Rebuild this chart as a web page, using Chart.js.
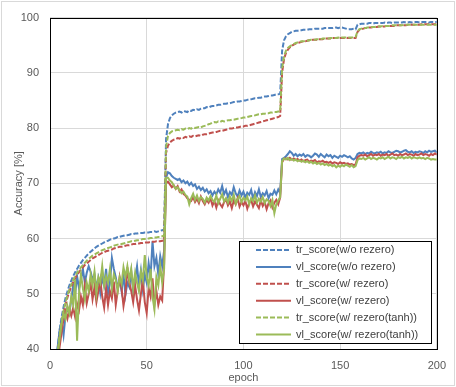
<!DOCTYPE html>
<html lang="en">
<head>
<meta charset="UTF-8">
<title>Accuracy vs epoch</title>
<script src="https://cdn.jsdelivr.net/npm/chart.js"></script>
<style>
  html, body { margin: 0; padding: 0; background: #fff; }
  #wrap { width: 456px; height: 387px; }
</style>
</head>
<body>
<div id="wrap"><canvas id="accChart" width="456" height="387"></canvas></div>
<script>
// legend labels, same order as in the legend box
const seriesNames = [
  'tr_score(w/o rezero)',
  'vl_score(w/o rezero)',
  'tr_score(w/ rezero)',
  'vl_score(w/ rezero)',
  'tr_score(w/ rezero(tanh))',
  'vl_score(w/ rezero(tanh))'
];
const xTicks = [0, 50, 100, 150, 200];
const yTicks = [40, 50, 60, 70, 80, 90, 100];

// accuracy per epoch (epoch 1..200)
const trNoRezero = [
  22, 31, 36.5, 40.2, 43.5, 45.8, 47.6, 49.2, 50.4, 51.5,
  52.4, 53.2, 53.9, 54.5, 55.1, 55.6, 56.1, 56.5, 56.9, 57.3,
  57.6, 57.9, 58.2, 58.5, 58.7, 58.9, 59.1, 59.3, 59.5, 59.6,
  59.8, 59.9, 60.0, 60.1, 60.3, 60.3, 60.4, 60.5, 60.6, 60.6,
  60.7, 60.8, 60.8, 60.9, 60.9, 61.0, 61.0, 61.0, 61.1, 61.1,
  61.1, 61.2, 61.2, 61.3, 61.2, 61.3, 61.4, 61.5, 61.6, 78.0,
  80.7, 81.8, 82.3, 82.6, 82.8, 82.9, 83.0, 82.8, 83.1, 83.0,
  82.9, 83.2, 83.1, 83.3, 83.2, 83.4, 83.3, 83.5, 83.6, 83.6,
  83.8, 83.7, 83.9, 84.0, 84.0, 84.1, 84.2, 84.2, 84.3, 84.4,
  84.4, 84.5, 84.5, 84.6, 84.7, 84.7, 84.8, 84.8, 84.9, 85.0,
  85.0, 85.1, 85.2, 85.2, 85.3, 85.4, 85.4, 85.5, 85.5, 85.6,
  85.7, 85.7, 85.8, 85.9, 85.9, 86.0, 86.1, 86.1, 86.2, 94.0,
  95.9, 96.6, 97.0, 97.2, 97.4, 97.5, 97.6, 97.6, 97.7, 97.7,
  97.8, 97.8, 97.8, 97.9, 97.9, 97.9, 98.0, 98.0, 98.0, 98.0,
  98.0, 98.1, 98.1, 98.1, 98.1, 98.1, 98.2, 98.2, 98.1, 98.2,
  98.2, 98.1, 98.0, 97.9, 97.9, 97.9, 98.0, 97.9, 98.7, 98.8,
  98.9, 98.9, 98.9, 98.9, 99.0, 99.0, 98.9, 99.0, 99.0, 99.0,
  99.0, 99.0, 99.1, 99.0, 99.1, 99.1, 99.0, 99.1, 99.1, 99.1,
  99.1, 99.1, 99.2, 99.1, 99.1, 99.2, 99.1, 99.2, 99.2, 99.2,
  99.1, 99.2, 99.2, 99.2, 99.2, 99.1, 99.2, 99.2, 99.2, 99.2
];
const vlNoRezero = [
  25, 32, 37, 40.5, 43.5, 45.0, 42.5, 46.0, 47.5, 46.5,
  49.0, 51.5, 50.0, 53.2, 51.0, 52.5, 54.5, 52.0, 53.8, 55.0,
  54.0, 52.5, 53.5, 51.0, 52.8, 50.2, 53.0, 51.5, 54.5, 50.0,
  52.0, 56.5, 54.5, 53.0, 51.0, 52.5, 50.5, 53.5, 49.8, 52.0,
  51.2, 54.0, 50.5, 52.8, 55.0, 51.5, 54.2, 50.8, 53.5, 52.0,
  55.5, 53.0, 59.5, 55.0, 56.5, 53.5, 56.8, 55.0, 57.8, 71.0,
  72.0, 71.8, 71.3, 71.0, 70.8, 70.6, 70.8, 70.2, 70.5, 70.0,
  70.3, 69.7, 70.1, 69.5, 69.8, 69.0, 69.4, 68.8, 69.2, 68.5,
  68.9, 68.2, 68.6, 67.8, 68.5, 68.0, 68.9, 68.3, 69.5, 68.0,
  68.8, 67.5, 68.4, 67.9, 69.3, 68.2, 67.6, 68.7, 67.8, 68.5,
  67.4, 68.3, 67.9, 68.8, 67.2, 68.4, 67.7, 68.9, 67.5, 68.2,
  67.8, 68.6, 67.3, 68.1, 67.9, 68.7, 68.0, 68.9, 68.2, 74.4,
  74.6, 74.9, 75.3, 75.8, 75.5, 75.0, 75.3, 74.9, 75.2, 75.0,
  75.3, 74.8, 75.1, 75.0, 74.7, 75.0, 75.4, 75.2, 74.8, 75.3,
  75.0, 74.7, 75.2, 74.9, 75.1, 74.6, 75.0, 74.8, 74.6, 75.0,
  74.8, 75.1, 74.9, 74.7, 74.9, 74.5, 74.3, 74.6, 75.3, 75.5,
  75.4, 75.6, 75.3, 75.5, 75.4, 75.7, 75.5, 75.4, 75.6, 75.5,
  75.7, 75.4, 75.6, 75.5, 75.8, 75.6, 75.5, 75.7, 75.9, 75.8,
  75.6, 75.7, 75.9, 76.0, 75.7, 75.6, 75.8, 75.5, 75.7, 75.6,
  75.8, 75.7, 75.5, 75.8, 75.6, 75.9, 75.7, 75.8, 75.9, 75.6
];
const trRezero = [
  20, 29, 35, 39.0, 42.2, 44.6, 46.5, 48.0, 49.3, 50.4,
  51.3, 52.1, 52.8, 53.4, 53.9, 54.4, 54.8, 55.2, 55.5, 55.8,
  56.1, 56.4, 56.6, 56.8, 57.0, 57.2, 57.4, 57.5, 57.7, 57.8,
  57.9, 58.0, 58.2, 58.3, 58.4, 58.5, 58.5, 58.6, 58.7, 58.8,
  58.8, 58.9, 59.0, 59.0, 59.1, 59.1, 59.2, 59.2, 59.3, 59.3,
  59.3, 59.4, 59.4, 59.4, 59.5, 59.5, 59.5, 59.6, 59.6, 75.5,
  76.8, 77.4, 77.7, 77.9, 78.0, 78.2, 78.1, 78.3, 78.2, 78.4,
  78.3, 78.5, 78.4, 78.6, 78.5, 78.6, 78.7, 78.6, 78.8, 78.9,
  78.9, 79.0, 79.1, 79.2, 79.2, 79.3, 79.4, 79.5, 79.5, 79.6,
  79.7, 79.8, 79.9, 79.9, 80.0, 80.1, 80.1, 80.2, 80.3, 80.3,
  80.4, 80.4, 80.5, 80.6, 80.7, 80.8, 80.9, 81.0, 81.1, 81.2,
  81.3, 81.4, 81.5, 81.6, 81.7, 81.8, 81.9, 82.0, 82.2, 90.0,
  92.5, 93.6, 94.2, 94.6, 94.9, 95.1, 95.3, 95.4, 95.5, 95.6,
  95.7, 95.7, 95.8, 95.9, 95.9, 96.0, 96.0, 96.0, 96.1, 96.1,
  96.1, 96.2, 96.2, 96.2, 96.2, 96.3, 96.3, 96.3, 96.3, 96.3,
  96.3, 96.3, 96.4, 96.3, 96.3, 96.3, 96.3, 96.3, 97.4, 97.8,
  97.9, 98.0, 98.1, 98.1, 98.2, 98.2, 98.3, 98.3, 98.3, 98.4,
  98.4, 98.4, 98.4, 98.5, 98.5, 98.5, 98.5, 98.5, 98.6, 98.6,
  98.6, 98.6, 98.6, 98.6, 98.7, 98.7, 98.7, 98.7, 98.7, 98.7,
  98.7, 98.8, 98.7, 98.8, 98.8, 98.8, 98.8, 98.8, 98.8, 98.8
];
const vlRezero = [
  20, 28, 34, 37.5, 40.5, 43.0, 45.5, 46.8, 45.5, 47.2,
  46.0, 47.5, 45.8, 48.2, 47.0, 49.5, 48.0, 51.5, 48.3, 50.0,
  52.0, 49.0, 51.2, 48.5, 50.5, 52.5, 49.5, 47.5, 51.0, 48.0,
  50.5, 49.2, 52.2, 48.0, 50.5, 53.0, 51.0, 47.8, 50.0, 54.8,
  52.0, 50.5, 48.5, 51.5, 49.0, 47.0, 50.0, 52.5, 48.5, 46.5,
  51.0, 49.5, 52.8, 48.0, 50.5, 48.0, 49.5, 48.8, 55.5, 70.0,
  70.3, 69.8, 69.3, 69.6, 69.0, 69.5, 68.5, 68.9, 68.1, 67.8,
  67.3, 67.0, 66.8, 67.5, 66.6, 67.2, 66.4, 67.6, 66.8, 66.2,
  67.0, 66.5, 67.3, 66.0, 66.8, 65.6, 66.9, 66.2, 65.7, 66.6,
  67.1, 66.0, 66.7, 65.5, 66.9, 66.2, 67.3, 65.8, 66.6, 66.0,
  66.8, 65.4, 66.5, 67.0, 65.8, 66.7, 66.1, 65.5, 66.9, 65.9,
  66.6, 65.3, 66.4, 66.9, 65.6, 66.5, 67.0, 66.2, 67.4, 73.8,
  74.4, 74.5, 74.3, 74.6, 74.3, 74.5, 74.2, 74.4, 74.1, 74.3,
  74.0, 74.2, 74.3, 73.9, 74.1, 74.0, 74.2, 73.8, 74.0, 73.9,
  74.1, 73.8, 73.9, 73.7, 73.9, 73.6, 73.8, 73.7, 73.5, 73.8,
  73.6, 73.7, 73.5, 73.6, 73.4, 73.5, 73.3, 73.4, 74.7, 75.0,
  75.1, 75.0, 75.2, 74.9, 75.1, 75.3, 75.0, 75.2, 75.1, 75.3,
  75.0, 75.2, 75.1, 75.3, 75.0, 75.2, 75.4, 75.1, 75.2, 75.0,
  75.3, 75.1, 75.2, 75.4, 75.1, 75.3, 75.2, 75.0, 75.3, 75.1,
  75.2, 75.4, 75.1, 75.3, 75.2, 75.0, 75.3, 75.1, 75.4, 75.2
];
const trTanh = [
  21, 30, 35.5, 39.5, 42.6, 45.0, 46.9, 48.4, 49.7, 50.8,
  51.7, 52.5, 53.2, 53.8, 54.3, 54.8, 55.2, 55.6, 56.0, 56.3,
  56.6, 56.9, 57.1, 57.3, 57.5, 57.7, 57.9, 58.0, 58.2, 58.3,
  58.4, 58.5, 58.7, 58.8, 58.9, 59.0, 59.0, 59.1, 59.2, 59.3,
  59.4, 59.5, 59.5, 59.6, 59.7, 59.7, 59.8, 59.9, 59.9, 60.0,
  60.0, 60.1, 60.1, 60.2, 60.2, 60.3, 60.3, 60.4, 60.5, 76.5,
  78.6, 79.1, 79.4, 79.5, 79.6, 79.7, 79.6, 79.8, 79.7, 79.9,
  79.8, 80.0, 79.9, 80.1, 80.0, 80.1, 80.2, 80.1, 80.3, 80.4,
  80.5, 80.7, 80.8, 81.0, 81.1, 81.0, 81.2, 81.1, 81.3, 81.2,
  81.3, 81.4, 81.4, 81.5, 81.5, 81.6, 81.7, 81.7, 81.8, 81.9,
  81.9, 82.0, 82.1, 82.2, 82.2, 82.3, 82.4, 82.5, 82.5, 82.6,
  82.6, 82.7, 82.7, 82.8, 82.8, 82.9, 82.9, 83.0, 83.0, 90.8,
  93.0, 94.0, 94.5, 94.8, 95.0, 95.2, 95.4, 95.5, 95.6, 95.7,
  95.7, 95.8, 95.8, 95.9, 96.0, 96.0, 96.0, 96.1, 96.1, 96.1,
  96.2, 96.2, 96.2, 96.2, 96.3, 96.3, 96.3, 96.3, 96.4, 96.3,
  96.4, 96.4, 96.4, 96.4, 96.4, 96.4, 96.4, 96.5, 97.5, 97.9,
  98.0, 98.1, 98.1, 98.2, 98.2, 98.3, 98.3, 98.3, 98.4, 98.4,
  98.4, 98.5, 98.5, 98.5, 98.5, 98.5, 98.6, 98.6, 98.6, 98.6,
  98.6, 98.6, 98.7, 98.7, 98.7, 98.7, 98.7, 98.7, 98.7, 98.7,
  98.7, 98.7, 98.7, 98.7, 98.7, 98.7, 98.7, 98.7, 98.7, 98.7
];
const vlTanh = [
  22, 30, 35, 39.0, 42.0, 44.5, 46.5, 45.5, 47.8, 46.5,
  49.5, 48.0, 52.5, 41.5, 50.0, 53.5, 51.0, 49.0, 52.0, 50.5,
  53.5, 51.5, 54.0, 50.0, 53.0, 52.0, 55.0, 51.5, 53.2, 52.0,
  54.5, 51.0, 53.5, 52.5, 50.5, 53.0, 51.8, 54.8, 53.0, 55.0,
  52.5, 54.5, 51.0, 53.8, 52.0, 50.5, 54.0, 52.5, 57.0, 53.0,
  51.5, 54.5, 49.5, 47.2, 53.0, 51.5, 55.0, 52.0, 54.5, 71.0,
  71.0, 70.5, 70.2, 69.6, 69.0, 69.3, 68.7, 68.2, 68.5, 67.9,
  67.6, 66.2, 67.3, 68.1, 67.0, 67.8, 66.8, 67.5, 67.2, 66.5,
  67.4, 66.9, 67.7, 67.0, 66.6, 67.8, 66.4, 67.2, 68.0, 66.7,
  67.3, 66.5, 67.6, 66.8, 67.9, 66.3, 67.1, 67.7, 66.6, 67.4,
  66.9, 67.6, 66.2, 67.3, 66.8, 67.8, 66.5, 67.2, 66.7, 67.5,
  66.4, 67.1, 66.8, 65.9, 67.0, 64.6, 66.2, 66.9, 67.5, 74.0,
  74.5, 74.3, 74.6, 74.2, 74.4, 74.1, 74.3, 74.0, 74.2, 73.9,
  74.1, 73.8, 74.0, 73.7, 73.9, 73.6, 73.8, 73.5, 73.7, 73.4,
  73.6, 73.3, 73.5, 73.2, 73.4, 73.1, 73.3, 72.9, 73.2, 73.0,
  73.3, 73.1, 73.4, 73.2, 73.0, 73.3, 72.9, 73.1, 74.2, 74.5,
  74.4, 74.6, 74.3, 74.5, 74.7, 74.4, 74.6, 74.5, 74.3, 74.6,
  74.5, 74.7, 74.4, 74.6, 74.8, 74.5, 74.7, 74.6, 74.4, 74.7,
  74.6, 74.8, 74.5, 74.7, 74.6, 74.8, 74.5, 74.7, 74.6, 74.5,
  74.7, 74.5, 74.6, 74.4, 74.6, 74.5, 74.3, 74.4, 74.3, 74.3
];

const blue = '#4F81BD', red = '#C0504D', green = '#9BBB59';
const dash = [5, 2];
const FONT = '"Liberation Sans", Arial, sans-serif';

function series(i, values, color, dashed) {
  return {
    label: seriesNames[i],
    data: values.map((v, k) => ({ x: k + 1, y: v })),
    borderColor: color,
    backgroundColor: color,
    borderWidth: 2,
    borderDash: dashed ? dash : [],
    pointRadius: 0,
    tension: 0,
    fill: false,
    order: 6 - i   // later series drawn on top, like the original
  };
}

// white page, light grey frame, black plot border and the boxed legend
const frameAndLegend = {
  id: 'frameAndLegend',
  beforeDraw(chart) {
    const ctx = chart.ctx;
    ctx.save();
    ctx.fillStyle = '#fff';
    ctx.fillRect(0, 0, chart.width, chart.height);
    ctx.strokeStyle = '#d9d9d9';
    ctx.lineWidth = 1;
    ctx.strokeRect(1.5, 1.5, chart.width - 3, chart.height - 3);
    ctx.restore();
  },
  afterDatasetsDraw(chart) {
    const { ctx, chartArea: a } = chart;
    ctx.save();
    ctx.strokeStyle = '#000';
    ctx.lineWidth = 1;
    ctx.strokeRect(Math.round(a.left) + 0.5, Math.round(a.top) + 0.5,
      Math.round(a.right - a.left), Math.round(a.bottom - a.top));

    const x0 = Math.round(a.right) - 198, y0 = Math.round(a.top) + 223;
    const w = 192, h = 102;
    ctx.fillStyle = '#fff';
    ctx.fillRect(x0, y0, w, h);
    ctx.strokeRect(x0 + 0.5, y0 + 0.5, w, h);
    ctx.font = '11px ' + FONT;
    ctx.textBaseline = 'middle';
    chart.data.datasets.forEach((ds, i) => {
      const y = y0 + 9 + i * 16.9;
      ctx.strokeStyle = ds.borderColor;
      ctx.lineWidth = 2;
      ctx.setLineDash(ds.borderDash);
      ctx.beginPath();
      ctx.moveTo(x0 + 17, y);
      ctx.lineTo(x0 + 52, y);
      ctx.stroke();
      ctx.setLineDash([]);
      ctx.fillStyle = '#404040';
      ctx.fillText(ds.label, x0 + 57, y);
    });
    ctx.restore();
  }
};

new Chart(document.getElementById('accChart'), {
  type: 'line',
  data: {
    datasets: [
      series(0, trNoRezero, blue, true),
      series(1, vlNoRezero, blue, false),
      series(2, trRezero, red, true),
      series(3, vlRezero, red, false),
      series(4, trTanh, green, true),
      series(5, vlTanh, green, false)
    ]
  },
  options: {
    responsive: false,
    animation: false,
    devicePixelRatio: 1,
    layout: { padding: { top: 10, right: 19, bottom: 0, left: 0 } },
    plugins: { legend: { display: false }, tooltip: { enabled: false } },
    scales: {
      x: {
        type: 'linear',
        min: 0, max: 200,
        afterBuildTicks: s => { s.ticks = xTicks.map(v => ({ value: v })); },
        afterFit: s => { s.height = 38; },
        grid: { color: '#d9d9d9', drawTicks: false },
        border: { display: false },
        ticks: { color: '#595959', font: { family: FONT, size: 11 }, padding: 10, maxRotation: 0, autoSkip: false },
        title: { display: true, text: 'epoch', color: '#595959', font: { family: FONT, size: 11 }, padding: { top: 0, bottom: 2 } }
      },
      y: {
        min: 40, max: 100,
        afterBuildTicks: s => { s.ticks = yTicks.map(v => ({ value: v })); },
        afterFit: s => { s.width = 50; },
        grid: { color: '#d9d9d9', drawTicks: false },
        border: { display: false },
        ticks: { color: '#595959', font: { family: FONT, size: 11 }, padding: 11 },
        title: { display: true, text: 'Accuracy [%]', color: '#595959', font: { family: FONT, size: 11 }, padding: { top: 12, bottom: 0 } }
      }
    }
  },
  plugins: [frameAndLegend]
});
</script>
</body>
</html>
